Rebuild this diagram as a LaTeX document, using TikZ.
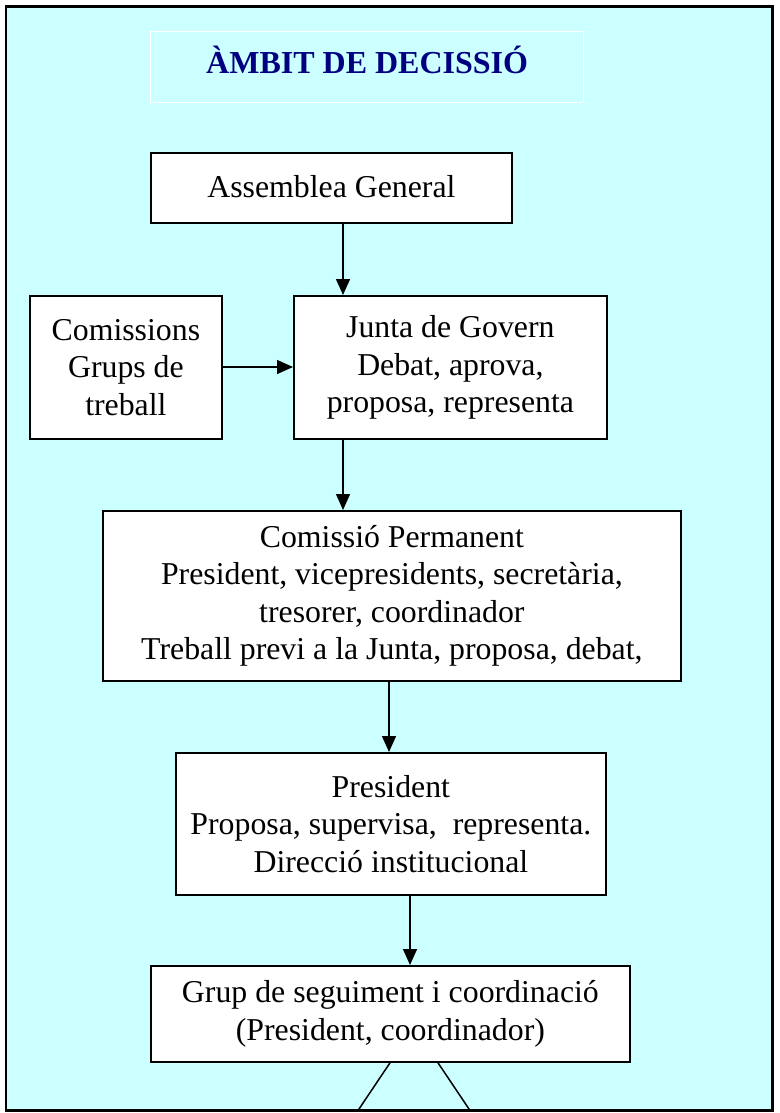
\documentclass[tikz,border=0pt]{standalone}
\usepackage{fontspec}
\setmainfont{Liberation Serif}
\usetikzlibrary{arrows.meta}
\definecolor{bgcyan}{RGB}{204,255,255}
\definecolor{navyt}{RGB}{0,0,128}
\begin{document}
\begin{tikzpicture}[x=1pt,y=-1pt,
  box/.style={draw=black,line width=1.8pt,fill=white,align=center,inner sep=0pt,
    font=\fontsize{31.8}{37.5}\selectfont},
  conn/.style={line width=1.5pt,-{Triangle[length=16pt,width=14pt]}},
  plain/.style={line width=1.5pt}]
\useasboundingbox (0,0) rectangle (779,1113);
\fill[white] (0,0) rectangle (779,1113);
\draw[line width=2.2pt,fill=bgcyan] (6,6.5) rectangle (772.5,1110.5);
\node[draw=white,line width=1.3pt,minimum width=433pt,minimum height=71pt,inner sep=0pt,
  text=navyt,font=\fontsize{32}{38}\selectfont\bfseries,anchor=north west] (title) at (150,31)
  {\raisebox{14pt}{ÀMBIT DE DECISSIÓ}};
\node[box,minimum width=361pt,minimum height=70pt,anchor=north west] (ag) at (150,152)
  {\raisebox{3pt}{Assemblea General}};
\node[box,minimum width=192pt,minimum height=143pt,anchor=north west] (com) at (29,295)
  {Comissions\\Grups de\\treball};
\node[box,minimum width=313pt,minimum height=143pt,anchor=north west] (jg) at (293,295)
  {Junta de Govern\\Debat, aprova,\\proposa, representa};
\node[box,minimum width=578pt,minimum height=170pt,anchor=north west] (cp) at (102,510)
  {Comissió Permanent\\President, vicepresidents, secretària,\\tresorer, coordinador\\Treball previ a la Junta, proposa, debat,};
\node[box,minimum width=430pt,minimum height=142pt,anchor=north west] (pr) at (175,752)
  {President\\Proposa, supervisa,~ representa.\\Direcció institucional};
\node[box,minimum width=479pt,minimum height=96pt,anchor=north west] (gs) at (150,965)
  {Grup de seguiment i coordinació\\(President, coordinador)};
\coordinate (ll) at (358,1110.5);
\coordinate (rl) at (470,1110.5);
\draw[conn] (ag.south -| 343,0) -- (jg.north -| 343,0);
\draw[conn] (com.east |- 0,367) -- (jg.west |- 0,367);
\draw[conn] (jg.south -| 343,0) -- (cp.north -| 343,0);
\draw[conn] (cp.south -| 389,0) -- (pr.north -| 389,0);
\draw[conn] (pr.south -| 410,0) -- (gs.north -| 410,0);
\draw[plain] (gs.south -| 390,0) -- (ll);
\draw[plain] (gs.south -| 438,0) -- (rl);
\end{tikzpicture}
\end{document}
